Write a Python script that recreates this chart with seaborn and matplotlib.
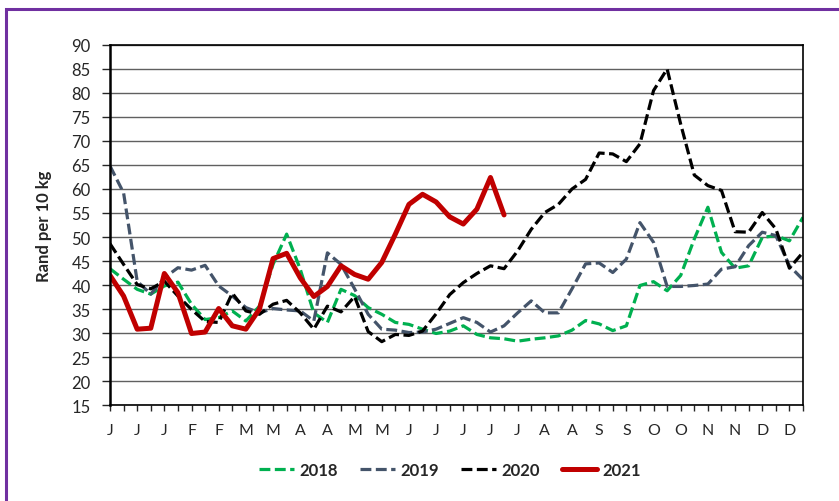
import matplotlib
matplotlib.use("Agg")
from matplotlib import pyplot as plt
from matplotlib.patches import Rectangle
import seaborn as sns
import numpy as np

# weekly prices, Rand per 10 kg
y2018 = [43.4, 41.2, 39.1, 38.1, 39.8, 40.6, 36.0, 32.8, 33.2, 34.6, 32.5, 35.6, 44.3,
         50.6, 43.3, 34.2, 32.2, 39.1, 37.8, 35.3, 33.9, 32.2, 31.8, 30.8, 29.9, 30.4,
         31.5, 29.7, 29.0, 28.8, 28.3, 28.7, 29.0, 29.4, 30.6, 32.6, 31.9, 30.5, 31.5,
         39.9, 40.7, 38.8, 42.0, 49.6, 56.2, 46.8, 43.5, 44.0, 49.9, 50.3, 49.2, 54.1]
y2019 = [64.8, 59.2, 40.8, 38.1, 41.5, 43.6, 43.1, 44.1, 39.8, 37.7, 35.3, 34.2, 35.1,
         34.8, 34.6, 32.5, 46.7, 44.3, 39.2, 33.9, 30.8, 30.6, 30.1, 30.2, 30.8, 32.0,
         33.2, 32.2, 30.2, 31.5, 34.2, 36.7, 34.2, 34.2, 39.2, 44.4, 44.6, 42.6, 45.4,
         53.0, 48.9, 39.7, 39.7, 39.9, 40.2, 43.3, 43.8, 48.2, 51.0, 50.3, 44.0, 41.1]
y2020 = [48.6, 44.3, 40.1, 39.2, 40.8, 37.7, 34.9, 32.4, 32.2, 38.3, 34.6, 33.9, 36.0,
         36.8, 34.2, 30.8, 35.6, 34.4, 37.6, 30.3, 28.2, 29.7, 29.5, 30.4, 34.0, 38.0,
         40.5, 42.4, 44.0, 43.4, 47.1, 51.6, 55.1, 56.8, 60.0, 62.0, 67.5, 67.3, 65.7,
         69.4, 80.5, 85.0, 73.5, 62.9, 60.7, 59.7, 51.1, 51.0, 55.1, 51.7, 43.5, 46.8]
y2021 = [42.0, 37.7, 30.8, 31.0, 42.4, 38.4, 29.9, 30.2, 35.1, 31.5, 30.8, 35.0, 45.5,
         46.6, 41.5, 37.6, 39.7, 44.0, 42.2, 41.2, 44.7, 50.6, 56.8, 58.9, 57.3, 54.2,
         52.7, 55.8, 62.4, 54.6]

month_labels = ["J", "J", "J", "F", "F", "M", "M", "A", "A", "M", "M", "J", "J",
                "J", "J", "J", "A", "A", "S", "S", "O", "O", "N", "N", "D", "D"]

sns.set_style("white")
plt.rcParams["font.family"] = ["Lato", "DejaVu Sans"]

fig = plt.figure(figsize=(8.39, 5.02), dpi=100)
ax = fig.add_axes([0.1311, 0.1912, 0.8260, 0.7172])

dash = (3.4, 1.4)
sns.lineplot(x=np.arange(len(y2018)), y=y2018, ax=ax, color="#00B050", lw=2.3,
             label="2018").lines[-1].set_dashes(dash)
sns.lineplot(x=np.arange(len(y2019)), y=y2019, ax=ax, color="#44546A", lw=2.3,
             label="2019").lines[-1].set_dashes(dash)
sns.lineplot(x=np.arange(len(y2020)), y=y2020, ax=ax, color="#000000", lw=2.3,
             label="2020").lines[-1].set_dashes(dash)
sns.lineplot(x=np.arange(len(y2021)), y=y2021, ax=ax, color="#C00000", lw=3.6,
             label="2021")

ax.set_xlim(0, 51)
ax.set_ylim(15, 90)
ax.set_yticks(range(15, 91, 5))
ax.set_xticks(range(0, 52, 2))
ax.set_xticklabels(month_labels)
ax.set_xticks(range(0, 52), minor=True)
ax.grid(axis="y", color="#606060", lw=1.0)
ax.set_axisbelow(True)
for s in ax.spines.values():
    s.set_visible(True)
    s.set_color("black")
    s.set_linewidth(1.2)
ax.spines["left"].set_linewidth(1.8)
ax.tick_params(axis="y", left=True, length=6, width=1, direction="out", labelsize=12, pad=8)
ax.tick_params(axis="x", which="both", bottom=True, length=4, width=1, direction="out",
               labelsize=11.5, pad=9)
ax.set_xlabel("")
ax.set_ylabel("Rand per 10 kg", fontsize=12, fontweight="bold", labelpad=14)

ax.get_legend().remove()
handles, labels = ax.get_legend_handles_labels()
fig.legend(handles, labels, loc="center", bbox_to_anchor=(450 / 839, 1 - 471 / 502),
           ncol=4, frameon=False, handlelength=2.1, columnspacing=1.3, handletextpad=0.35,
           prop={"weight": "bold", "size": 12})

fig.add_artist(Rectangle((6 / 839, -0.05), 1.2, 1 - 10 / 502 + 0.05, transform=fig.transFigure,
                         fill=False, edgecolor="#7030A0", lw=2.2, clip_on=False))

fig.savefig("out.png", dpi=100)
